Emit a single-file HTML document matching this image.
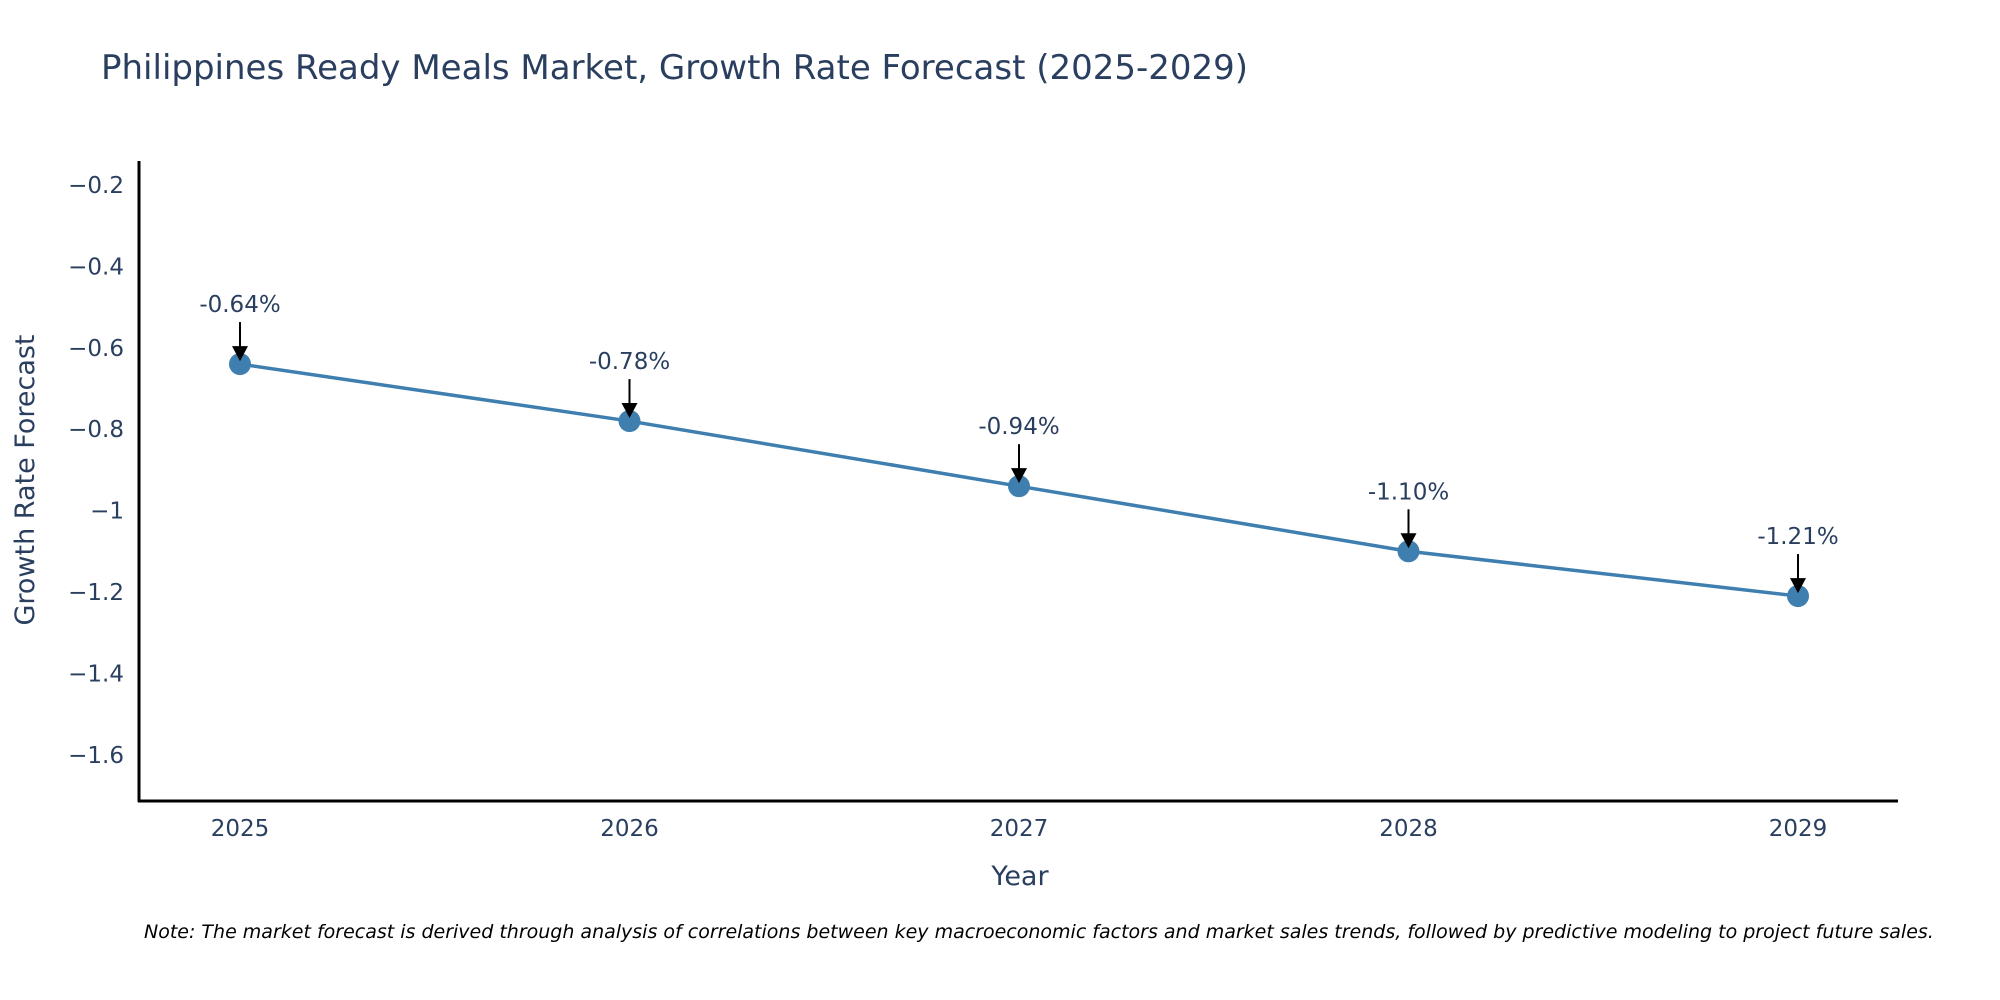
<!DOCTYPE html>
<html><head><meta charset="utf-8"><style>
body{margin:0;background:#fff;overflow:hidden}
svg{font-family:"DejaVu Sans","Liberation Sans",sans-serif;display:block}
</style></head><body>
<svg id="chart" width="2000" height="1000">
<text x="101" y="79" font-size="34" fill="#2a3f5f">Philippines Ready Meals Market, Growth Rate Forecast (2025-2029)</text>
<g id="yticks"></g>
<g id="xticks"></g>
<line x1="139" y1="161" x2="139" y2="802" stroke="#000" stroke-width="3"/>
<line x1="138" y1="801" x2="1898" y2="801" stroke="#000" stroke-width="3"/>
<text transform="translate(34,480) rotate(-90)" text-anchor="middle" font-size="27" fill="#2a3f5f">Growth Rate Forecast</text>
<text x="1020" y="885" text-anchor="middle" font-size="27" fill="#2a3f5f">Year</text>
<g id="series"></g>
<text x="144" y="938" font-size="19" font-style="italic" fill="#000">Note: The market forecast is derived through analysis of correlations between key macroeconomic factors and market sales trends, followed by predictive modeling to project future sales.</text>
</svg>
<script>
const years = [2025, 2026, 2027, 2028, 2029];
const growth = [-0.64, -0.78, -0.94, -1.10, -1.21];
const labels = ["-0.64%", "-0.78%", "-0.94%", "-1.10%", "-1.21%"];
const yTickVals = [-0.2, -0.4, -0.6, -0.8, -1, -1.2, -1.4, -1.6];
const yTickLabels = ["\u22120.2", "\u22120.4", "\u22120.6", "\u22120.8", "\u22121", "\u22121.2", "\u22121.4", "\u22121.6"];

const NS = "http://www.w3.org/2000/svg";
const xS = v => 240 + (v - 2025) * 389.5;
const yS = v => 185 + (-0.2 - v) / 0.2 * 81.4;
function mk(tag, attrs, parent){const e=document.createElementNS(NS,tag);for(const k in attrs)e.setAttribute(k,attrs[k]);parent.appendChild(e);return e;}

const yt = document.getElementById('yticks');
yTickVals.forEach((v,i)=>{
  const t = mk('text',{x:124,y:yS(v)+8,'text-anchor':'end','font-size':23,fill:'#2a3f5f'},yt);
  
  
  t.textContent = yTickLabels[i];
});
const xt = document.getElementById('xticks');
years.forEach(y=>{
  const t = mk('text',{x:xS(y),y:836,'text-anchor':'middle','font-size':23,fill:'#2a3f5f'},xt);
  
  
  t.textContent = String(y);
});
const s = document.getElementById('series');
const line = mk('polyline',{points:years.map((y,i)=>xS(y)+','+yS(growth[i])).join(' '),fill:'none',stroke:'#3f7fb0','stroke-width':3.5},s);


years.forEach((y,i)=>{
  const cx=xS(y), cy=yS(growth[i]);
  const c = mk('circle',{cx:cx,cy:cy,r:11,fill:'#3f7fb0'},s);
  
  
  const a = mk('line',{x1:cx,y1:cy-42,x2:cx,y2:cy-14,stroke:'#000','stroke-width':2},s);
  
  
  const h = mk('polygon',{points:`${cx-8},${cy-18} ${cx+8},${cy-18} ${cx},${cy-3}`,fill:'#000'},s);
  
  
  const t = mk('text',{x:cx,y:cy-52,'text-anchor':'middle','font-size':23,fill:'#2a3f5f'},s);
  
  
  t.textContent = labels[i];
});
</script>
</body></html>
